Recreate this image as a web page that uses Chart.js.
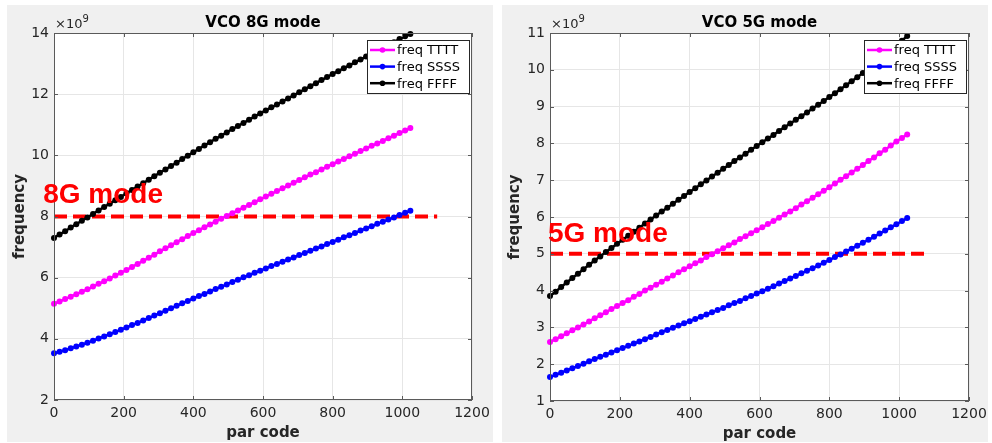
<!DOCTYPE html>
<html>
<head>
<meta charset="utf-8">
<script src="https://cdn.jsdelivr.net/npm/chart.js@4.4.0/dist/chart.umd.min.js"></script>
<style>
  body { margin: 0; background: #fff; }
  .panel { position: absolute; top: 5px; width: 486px; height: 437px; }
  #p1 { left: 7px; }
  #p2 { left: 502px; }
</style>
</head>
<body>
<div class="panel" id="p1"><canvas id="c1" width="486" height="437"></canvas></div>
<div class="panel" id="p2"><canvas id="c2" width="486" height="437"></canvas></div>
<script>
// par code axis (x)
const parCode = [0,16,32,48,64,80,96,112,128,144,160,176,192,208,224,240,256,272,288,304,320,336,352,368,384,400,
  416,432,448,464,480,496,512,528,544,560,576,592,608,624,640,656,672,688,704,720,736,752,768,784,800,
  816,832,848,864,880,896,912,928,944,960,976,992,1008,1023];

// VCO 8G mode, frequency in units of 1e9
const freq8T = [5.15,5.22,5.30,5.38,5.46,5.54,5.62,5.71,5.80,5.88,5.97,6.07,6.16,6.25,6.35,6.45,6.55,6.65,6.75,6.86,6.96,7.06,7.16,7.26,7.36,7.46,
  7.55,7.65,7.74,7.83,7.93,8.02,8.11,8.20,8.29,8.38,8.47,8.56,8.65,8.74,8.83,8.92,9.01,9.10,9.19,9.28,9.37,9.45,9.54,9.63,9.71,
  9.80,9.88,9.97,10.05,10.14,10.22,10.31,10.39,10.47,10.56,10.64,10.73,10.81,10.89];
const freq8S = [3.53,3.58,3.63,3.69,3.75,3.81,3.87,3.94,4.01,4.08,4.15,4.22,4.30,4.37,4.45,4.52,4.60,4.68,4.76,4.84,4.92,5.00,5.08,5.16,5.24,5.32,
  5.40,5.47,5.55,5.63,5.70,5.78,5.86,5.93,6.01,6.08,6.16,6.23,6.30,6.38,6.45,6.52,6.59,6.66,6.74,6.81,6.88,6.95,7.02,7.10,7.17,
  7.24,7.32,7.39,7.46,7.54,7.61,7.68,7.76,7.83,7.90,7.97,8.05,8.12,8.19];
const freq8F = [7.30,7.41,7.52,7.64,7.75,7.86,7.97,8.08,8.20,8.31,8.42,8.53,8.64,8.76,8.87,8.98,9.09,9.20,9.32,9.43,9.54,9.65,9.76,9.88,9.99,10.10,
  10.21,10.32,10.43,10.54,10.64,10.75,10.86,10.96,11.06,11.16,11.27,11.37,11.47,11.57,11.66,11.76,11.86,11.96,12.06,12.16,12.26,12.36,12.46,12.56,12.66,
  12.75,12.85,12.94,13.04,13.13,13.23,13.32,13.42,13.51,13.61,13.70,13.80,13.89,13.97];

// VCO 5G mode
const freq5T = [2.60,2.68,2.76,2.84,2.92,3.00,3.08,3.16,3.25,3.33,3.41,3.50,3.58,3.66,3.74,3.83,3.91,4.00,4.08,4.16,4.24,4.33,4.41,4.50,4.58,4.66,
  4.74,4.82,4.91,4.99,5.07,5.15,5.23,5.31,5.40,5.48,5.56,5.64,5.72,5.81,5.89,5.98,6.07,6.15,6.24,6.34,6.43,6.52,6.62,6.71,6.81,
  6.91,7.01,7.11,7.21,7.31,7.41,7.52,7.62,7.73,7.83,7.94,8.05,8.15,8.24];
const freq5S = [1.65,1.71,1.77,1.83,1.89,1.95,2.01,2.08,2.14,2.20,2.26,2.32,2.38,2.44,2.50,2.56,2.62,2.68,2.74,2.81,2.87,2.93,2.99,3.05,3.11,3.17,
  3.23,3.29,3.35,3.41,3.47,3.53,3.60,3.66,3.72,3.79,3.85,3.92,3.98,4.05,4.12,4.19,4.26,4.33,4.40,4.47,4.54,4.61,4.68,4.76,4.83,
  4.91,4.98,5.06,5.14,5.22,5.30,5.38,5.46,5.55,5.63,5.72,5.80,5.89,5.97];
const freq5F = [3.85,3.97,4.10,4.22,4.34,4.46,4.58,4.70,4.82,4.93,5.05,5.16,5.27,5.38,5.49,5.60,5.71,5.82,5.93,6.04,6.15,6.25,6.36,6.47,6.57,6.68,
  6.78,6.89,6.99,7.10,7.20,7.31,7.41,7.52,7.62,7.72,7.83,7.93,8.03,8.13,8.23,8.34,8.44,8.54,8.64,8.74,8.84,8.95,9.05,9.15,9.26,
  9.36,9.47,9.58,9.69,9.80,9.91,10.02,10.14,10.27,10.40,10.53,10.66,10.79,10.92];

const seriesNames = ['freq TTTT', 'freq SSSS', 'freq FFFF'];
const seriesColors = ['#ff00ff', '#0000ff', '#000000'];

// reference "mode" lines
const modeLine8X = [0, 1100];
const modeLine8Y = [8, 8];
const modeLine5X = [0, 1080];
const modeLine5Y = [5, 5];

// tick labels
const xTicks = [0, 200, 400, 600, 800, 1000, 1200];
const yTicks8 = [2, 4, 6, 8, 10, 12, 14];
const yTicks5 = [1, 2, 3, 4, 5, 6, 7, 8, 9, 10, 11];

function pts(xs, ys) {
  return xs.map((x, i) => ({ x: x, y: ys[i] }));
}

const panelPlugin = {
  id: 'panel',
  beforeDraw(chart) {
    const { ctx, chartArea: a } = chart;
    ctx.save();
    ctx.fillStyle = '#f0f0f0';
    ctx.fillRect(0, 0, chart.width, chart.height);
    ctx.fillStyle = '#ffffff';
    ctx.fillRect(a.left, a.top, a.right - a.left, a.bottom - a.top);
    ctx.restore();
  },
  afterDraw(chart) {
    const o = chart.options.plugins.panel;
    const { ctx, chartArea: a } = chart;
    const xs = chart.scales.x, ys = chart.scales.y;
    ctx.save();

    // box + inward ticks
    ctx.strokeStyle = '#5a5a5a';
    ctx.lineWidth = 1;
    ctx.strokeRect(a.left + 0.5, a.top + 0.5, a.right - a.left - 1, a.bottom - a.top - 1);
    ctx.beginPath();
    xTicks.forEach(v => {
      const px = Math.round(xs.getPixelForValue(v)) + 0.5;
      ctx.moveTo(px, a.bottom); ctx.lineTo(px, a.bottom - 4);
      ctx.moveTo(px, a.top); ctx.lineTo(px, a.top + 4);
    });
    o.yTicks.forEach(v => {
      const py = Math.round(ys.getPixelForValue(v)) + 0.5;
      ctx.moveTo(a.left, py); ctx.lineTo(a.left + 4, py);
      ctx.moveTo(a.right, py); ctx.lineTo(a.right - 4, py);
    });
    ctx.stroke();

    // title
    ctx.fillStyle = '#000';
    ctx.font = 'bold 15px "DejaVu Sans"';
    ctx.textAlign = 'center';
    ctx.textBaseline = 'alphabetic';
    ctx.fillText(o.title, (a.left + a.right) / 2, a.top - 6);

    // exponent
    ctx.fillStyle = '#262626';
    ctx.textAlign = 'left';
    ctx.font = '13px "DejaVu Sans"';
    ctx.fillText('\u00d710', a.left + 1, a.top - 5);
    const w = ctx.measureText('\u00d710').width;
    ctx.font = '10px "DejaVu Sans"';
    ctx.fillText('9', a.left + 1 + w, a.top - 11);

    // axis titles
    ctx.fillStyle = '#262626';
    ctx.font = 'bold 15px "DejaVu Sans"';
    ctx.textAlign = 'center';
    ctx.fillText('par code', (a.left + a.right) / 2, a.bottom + 37);
    ctx.save();
    ctx.translate(17, (a.top + a.bottom) / 2);
    ctx.rotate(-Math.PI / 2);
    ctx.fillText('frequency', 0, 0);
    ctx.restore();

    // mode annotation
    ctx.fillStyle = '#ff0000';
    ctx.font = 'bold 28px "Liberation Sans"';
    ctx.textAlign = 'left';
    ctx.fillText(o.modeText, xs.getPixelForValue(o.modeX), ys.getPixelForValue(o.modeY));

    // legend
    const bw = 103, bh = 54;
    const bx = a.right - 2 - bw, by = a.top + 7;
    ctx.fillStyle = '#fff';
    ctx.fillRect(bx, by, bw, bh);
    ctx.strokeStyle = '#262626';
    ctx.lineWidth = 1;
    ctx.strokeRect(bx + 0.5, by + 0.5, bw - 1, bh - 1);
    ctx.font = '13px "DejaVu Sans"';
    ctx.textBaseline = 'middle';
    seriesNames.forEach((name, i) => {
      const ry = by + 10 + i * 16.6;
      ctx.strokeStyle = seriesColors[i];
      ctx.lineWidth = 2.5;
      ctx.beginPath();
      ctx.moveTo(bx + 3, ry); ctx.lineTo(bx + 28, ry);
      ctx.stroke();
      ctx.fillStyle = seriesColors[i];
      ctx.beginPath();
      ctx.arc(bx + 15.5, ry, 2.8, 0, Math.PI * 2);
      ctx.fill();
      ctx.fillStyle = '#000';
      ctx.fillText(name, bx + 30, ry + 1);
    });
    ctx.restore();
  }
};

function makeChart(id, cfg) {
  const datasets = [cfg.T, cfg.S, cfg.F].map((ys, i) => ({
    label: seriesNames[i],
    data: pts(parCode, ys),
    borderColor: seriesColors[i],
    backgroundColor: seriesColors[i],
    borderWidth: 2.5,
    pointRadius: 3,
    pointBorderWidth: 0,
    pointHoverRadius: 3,
    clip: false,
    tension: 0
  }));
  datasets.push({
    label: 'mode',
    data: pts(cfg.modeX, cfg.modeY),
    borderColor: '#ff0000',
    borderWidth: 4,
    borderDash: [13, 6],
    pointRadius: 0
  });

  return new Chart(document.getElementById(id).getContext('2d'), {
    type: 'line',
    data: { datasets: datasets },
    options: {
      responsive: false,
      animation: false,
      events: [],
      layout: { padding: { top: 28, right: cfg.padRight, left: 0, bottom: 0 } },
      plugins: {
        legend: { display: false },
        tooltip: { enabled: false },
        panel: {
          title: cfg.title,
          modeText: cfg.modeText,
          modeX: cfg.textX,
          modeY: cfg.textY,
          yTicks: cfg.yTicks
        }
      },
      scales: {
        x: {
          type: 'linear',
          min: 0,
          max: 1200,
          afterBuildTicks: s => { s.ticks = xTicks.map(v => ({ value: v })); },
          afterFit: s => { s.height = 437 - cfg.bottom; s.paddingLeft = 0; s.paddingRight = 0; },
          ticks: { color: '#262626', font: { family: 'DejaVu Sans', size: 14 }, padding: 5, maxRotation: 0, autoSkip: false, callback: v => String(v) },
          grid: { color: '#e6e6e6', drawTicks: false },
          border: { display: false }
        },
        y: {
          type: 'linear',
          min: cfg.yTicks[0],
          max: cfg.yTicks[cfg.yTicks.length - 1],
          afterBuildTicks: s => { s.ticks = cfg.yTicks.map(v => ({ value: v })); },
          afterFit: s => { s.width = cfg.left; s.paddingTop = 0; s.paddingBottom = 0; },
          ticks: { color: '#262626', font: { family: 'DejaVu Sans', size: 14 }, padding: 5, autoSkip: false, callback: v => String(v) },
          grid: { color: '#e6e6e6', drawTicks: false },
          border: { display: false }
        }
      }
    },
    plugins: [panelPlugin]
  });
}

makeChart('c1', {
  title: 'VCO 8G mode', T: freq8T, S: freq8S, F: freq8F,
  modeX: modeLine8X, modeY: modeLine8Y, modeText: '8G mode', textX: -31, textY: 8.44,
  yTicks: yTicks8, left: 47, padRight: 21, bottom: 395
});
makeChart('c2', {
  title: 'VCO 5G mode', T: freq5T, S: freq5S, F: freq5F,
  modeX: modeLine5X, modeY: modeLine5Y, modeText: '5G mode', textX: -6, textY: 5.32,
  yTicks: yTicks5, left: 48, padRight: 19, bottom: 396
});
</script>
</body>
</html>
